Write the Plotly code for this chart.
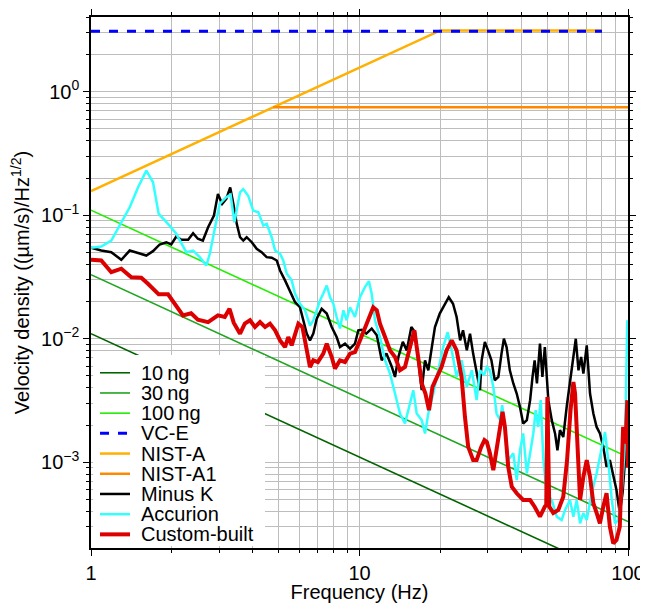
import plotly.graph_objects as go

# ---------------- data ----------------
freq_minusk = [1.0, 1.092, 1.19, 1.297, 1.394, 1.496, 1.607, 1.702, 1.802, 1.907, 1.99, 2.078, 2.17, 2.30, 2.40,
               2.50, 2.61, 2.73, 2.87, 2.97, 3.08, 3.19, 3.30, 3.39, 3.49, 3.59, 3.69, 3.80, 3.97, 4.14, 4.32,
               4.51, 4.71, 4.92, 5.06, 5.28, 5.51, 5.75, 6.0, 6.18, 6.36, 6.54, 6.73, 6.93, 7.23, 7.55, 7.88,
               8.22, 8.46, 8.83, 9.22, 9.62, 9.90, 10.2, 10.6, 11.1, 11.6, 12.1, 12.6, 13.2, 13.56, 13.96, 14.5,
               15.0, 15.6, 16.1, 16.6, 17.05, 17.54, 18.04, 18.6, 19.1, 19.9, 20.8, 21.5, 22.3, 23.0, 23.7, 24.3,
               25.1, 25.8, 26.5, 27.3, 28.1, 28.5, 29.3, 30.1, 31.0, 31.9, 32.9, 33.8, 34.5, 35.3, 36.3, 37.4,
               38.5, 39.6, 40.7, 42.0, 43.2, 44.1, 44.9, 45.8, 47.0, 48.0, 49.0, 50.5, 52.0, 53.5, 54.6, 55.8,
               57.4, 59.1, 60.8, 62.6, 63.9, 65.4, 66.9, 68.2, 70.2, 72.2, 74.3, 76.4, 78.6, 80.9, 83.2, 85.6,
               88.1, 90.6, 93.2, 95.4, 97.5, 98.9]
vel_minusk = [0.0545, 0.0518, 0.0502, 0.0436, 0.0518, 0.0493, 0.0472, 0.0512, 0.058, 0.0605, 0.058, 0.0673, 0.0633,
              0.0633, 0.0715, 0.0645, 0.0624, 0.080, 0.0995, 0.149, 0.1236, 0.1357, 0.168, 0.1236, 0.0852, 0.0664,
              0.0624, 0.0664, 0.0605, 0.0535, 0.0502, 0.0458, 0.0453, 0.043, 0.0357, 0.0297, 0.0246, 0.0198,
              0.018, 0.0141, 0.011, 0.0097, 0.011, 0.01454, 0.0175, 0.016, 0.01244, 0.01033, 0.00857, 0.00912,
              0.0083, 0.00912, 0.0117, 0.0118, 0.011, 0.0121, 0.01065, 0.00669, 0.00758, 0.0059, 0.0049, 0.00711,
              0.00943, 0.00805, 0.01244, 0.0113, 0.00669, 0.00383, 0.00669, 0.00555, 0.00857, 0.01244, 0.016,
              0.0192, 0.0217, 0.0192, 0.015, 0.0097, 0.0117, 0.00805, 0.011, 0.00758, 0.00555, 0.00383, 0.00669,
              0.00943, 0.00805, 0.00669, 0.00461, 0.0049, 0.00758, 0.0100, 0.00857, 0.00555, 0.00434, 0.0036,
              0.0028, 0.00206, 0.00219, 0.00318, 0.0049, 0.00669, 0.00434, 0.00912, 0.0049, 0.00857, 0.00318,
              0.00219, 0.00171, 0.00125, 0.00182, 0.0016, 0.0028, 0.00461, 0.00711, 0.0100, 0.00555, 0.00711,
              0.00522, 0.00885, 0.0036, 0.00248, 0.00193, 0.00171, 0.00133, 0.000918, 0.00104, 0.000762,
              0.000595, 0.000388, 0.00056, 0.00104, 0.00193]

freq_accurion = [1.0, 1.092, 1.19, 1.297, 1.394, 1.496, 1.607, 1.702, 1.787, 1.936, 2.078, 2.265, 2.40, 2.54, 2.69,
                 2.77, 2.89, 3.015, 3.19, 3.31, 3.42, 3.59, 3.69, 3.85, 4.02, 4.2, 4.38, 4.51, 4.71, 4.85, 5.06,
                 5.2, 5.36, 5.59, 5.75, 6.0, 6.27, 6.54, 6.73, 6.93, 7.13, 7.33, 7.55, 7.77, 7.99, 8.22, 8.46,
                 8.71, 8.96, 9.22, 9.62, 10.04, 10.48, 10.84, 11.1, 11.42, 11.92, 12.45, 12.99, 13.56, 14.15,
                 14.77, 15.2, 15.86, 16.33, 17.05, 17.54, 18.04, 18.83, 19.66, 20.5, 21.3, 22.05, 23.0, 24.0,
                 25.1, 26.2, 27.3, 28.1, 29.1, 29.8, 30.6, 31.5, 32.4, 33.4, 34.0, 34.8, 35.8, 37.4, 38.5, 39.6,
                 40.7, 42.0, 43.2, 44.4, 45.3, 46.3, 47.3, 48.4, 49.8, 52.0, 54.3, 56.6, 58.3, 60.8, 62.6, 64.4,
                 66.3, 68.2, 70.2, 73.2, 76.4, 79.8, 82.1, 84.4, 87.0, 89.5, 92.0, 94.7, 97.5, 99.4]
vel_accurion = [0.0545, 0.0558, 0.0624, 0.0878, 0.116, 0.168, 0.230, 0.185, 0.1026, 0.0852, 0.0708, 0.0502, 0.0518,
                0.0458, 0.0392, 0.0488, 0.080, 0.1236, 0.140, 0.147, 0.0878, 0.1535, 0.163, 0.144, 0.109, 0.1058,
                0.0825, 0.0852, 0.0664, 0.0518, 0.0488, 0.043, 0.0336, 0.0297, 0.0232, 0.0192, 0.017, 0.0128,
                0.0141, 0.017, 0.0204, 0.0232, 0.027, 0.0217, 0.0192, 0.015, 0.0121, 0.017, 0.0141, 0.018, 0.015,
                0.0217, 0.0262, 0.0293, 0.0232, 0.0141, 0.0103, 0.00669, 0.00522, 0.0036, 0.00248, 0.00206,
                0.00264, 0.00383, 0.00248, 0.00219, 0.00171, 0.00248, 0.0036, 0.00555, 0.00857, 0.0113, 0.00805,
                0.0049, 0.00669, 0.00407, 0.00555, 0.00318, 0.00555, 0.00506, 0.0059, 0.00555, 0.00407, 0.00248,
                0.00219, 0.0029, 0.00193, 0.00104, 0.00118, 0.000716, 0.00125, 0.00171, 0.000812, 0.00118, 0.00171,
                0.00264, 0.00193, 0.00318, 0.00104, 0.00056, 0.000494, 0.000362, 0.00034, 0.00041, 0.000494,
                0.000362, 0.000494, 0.00032, 0.000388, 0.00034, 0.00056, 0.000812, 0.00133, 0.00176, 0.00104,
                0.000494, 0.00032, 0.00034, 0.00056, 0.00142, 0.0141]

freq_custom = [1.0, 1.092, 1.19, 1.297, 1.413, 1.539, 1.63, 1.787, 1.936, 2.05, 2.20, 2.36, 2.50, 2.73, 2.97, 3.15,
               3.28, 3.40, 3.59, 3.74, 3.91, 4.08, 4.26, 4.45, 4.64, 4.85, 5.06, 5.28, 5.43, 5.59, 5.75, 5.92,
               6.13, 6.36, 6.54, 6.73, 7.0, 7.33, 7.55, 7.88, 8.1, 8.46, 8.83, 9.22, 9.62, 10.04, 10.48, 10.78,
               11.25, 11.6, 11.92, 12.45, 12.99, 13.56, 14.15, 14.77, 15.4, 16.0, 16.6, 17.05, 17.6, 18.15, 18.7,
               19.4, 20.2, 21.1, 22.05, 23.0, 24.0, 24.7, 25.4, 26.5, 27.3, 28.4, 29.2, 29.8, 30.6, 31.5, 32.4,
               33.4, 34.1, 34.8, 35.8, 36.9, 38.5, 40.7, 43.2, 44.9, 47.0, 49.0, 49.6, 50.1, 50.5, 50.9, 52.7,
               55.0, 57.4, 59.3, 61.1, 62.6, 63.5, 64.9, 66.3, 68.2, 70.2, 72.2, 74.3, 76.4, 78.6, 80.9, 83.2,
               85.6, 88.1, 90.6, 93.2, 95.9, 97.9, 99.4, 99.8]
vel_custom = [0.0436, 0.043, 0.0346, 0.0369, 0.0315, 0.0312, 0.0279, 0.0229, 0.0229, 0.0192, 0.01546, 0.0161,
              0.01427, 0.01364, 0.01546, 0.015, 0.0175, 0.0135, 0.011, 0.01325, 0.0141, 0.01244, 0.01364, 0.01244,
              0.01325, 0.0117, 0.0097, 0.00857, 0.01033, 0.00885, 0.011, 0.01325, 0.01244, 0.00805, 0.0059,
              0.00669, 0.00648, 0.00758, 0.00912, 0.00711, 0.00573, 0.00669, 0.00648, 0.00758, 0.0078, 0.0097,
              0.01244, 0.0141, 0.018, 0.017, 0.01325, 0.01033, 0.00805, 0.00711, 0.00555, 0.0059, 0.00857, 0.0117,
              0.00669, 0.00434, 0.0036, 0.00264, 0.00407, 0.0049, 0.0059, 0.00805, 0.0097, 0.00805, 0.0049,
              0.00233, 0.00133, 0.00104, 0.00104, 0.00133, 0.00151, 0.00146, 0.00118, 0.000863, 0.00125, 0.00206,
              0.00256, 0.00193, 0.000918, 0.000633, 0.00056, 0.000494, 0.000494, 0.000436, 0.000362, 0.000436,
              0.00045, 0.00338, 0.00045, 0.000436, 0.000388, 0.00041, 0.000525, 0.00104, 0.00264, 0.00447, 0.0036,
              0.00104, 0.000494, 0.000762, 0.00104, 0.000762, 0.000465, 0.000388, 0.00032, 0.000436, 0.00056,
              0.0003, 0.00022, 0.000234, 0.0003, 0.00193, 0.00142, 0.00318, 0.0009]

# reference criteria (straight-line segments, given by their end values)
freq_vce = [1, 80]
vel_vce = [3.1, 3.1]
freq_nista = [1, 20, 80]
vel_nista = [0.157, 3.14, 3.14]
freq_nista1 = [4.77, 100]
vel_nista1 = [0.75, 0.75]
freq_ng = [1, 100]
vel_10ng = [0.011, 0.00011]
vel_30ng = [0.033, 0.00033]
vel_100ng = [0.11, 0.0011]

legend_names = ["10\u2009ng", "30\u2009ng", "100\u2009ng", "VC-E", "NIST-A", "NIST-A1",
                "Minus K", "Accurion", "Custom-built"]

x_tickvals = [1, 10, 100]
x_ticktext = ["1", "10", "100"]
y_tickvals = [1e-3, 1e-2, 1e-1, 1]
y_ticktext = ["10<sup>\u22123</sup>", "10<sup>\u22122</sup>", "10<sup>\u22121</sup>", "10<sup>0</sup>"]

# ---------------- styles ----------------
styles = {
    "10\u2009ng": dict(color="#006400", width=1.6, dash="solid"),
    "30\u2009ng": dict(color="#1fa51f", width=1.6, dash="solid"),
    "100\u2009ng": dict(color="#22ee00", width=1.6, dash="solid"),
    "VC-E": dict(color="#0000ff", width=3, dash="dash"),
    "NIST-A": dict(color="#ffb000", width=2.5, dash="solid"),
    "NIST-A1": dict(color="#ff8800", width=2.5, dash="solid"),
    "Minus K": dict(color="#000000", width=2.5, dash="solid"),
    "Accurion": dict(color="#33ffff", width=2.5, dash="solid"),
    "Custom-built": dict(color="#dd0000", width=4, dash="solid"),
}

series = [
    ("10\u2009ng", freq_ng, vel_10ng),
    ("30\u2009ng", freq_ng, vel_30ng),
    ("100\u2009ng", freq_ng, vel_100ng),
    ("NIST-A", freq_nista, vel_nista),
    ("VC-E", freq_vce, vel_vce),
    ("NIST-A1", freq_nista1, vel_nista1),
    ("Minus K", freq_minusk, vel_minusk),
    ("Accurion", freq_accurion, vel_accurion),
    ("Custom-built", freq_custom, vel_custom),
]

fig = go.Figure()
for name, fx, vy in series:
    fig.add_trace(go.Scatter(x=fx, y=vy, mode="lines", name=name, line=styles[name],
                             showlegend=False, cliponaxis=True))

FONT = "Liberation Sans, Arial, Helvetica, sans-serif"
grid = "#bdbdbd"

minor_x = [m * d for d in (1, 10) for m in range(2, 10)]
minor_y = [m * d for d in (1e-4, 1e-3, 1e-2, 1e-1, 1) for m in range(2, 10)]

axis_common = dict(
    type="log", showline=True, linecolor="black", linewidth=1.5, mirror="ticks",
    ticks="outside", ticklen=6, tickwidth=1.3, tickcolor="black",
    showgrid=True, gridcolor=grid, gridwidth=1.3, automargin=False,
    ticklabeloverflow="allow",
    tickfont=dict(family=FONT, size=20, color="black"),
)

fig.update_xaxes(
    **axis_common, range=[0, 2], tickvals=x_tickvals, ticktext=x_ticktext,
    minor=dict(tickvals=minor_x, ticks="outside", ticklen=3.5, tickwidth=1.2, tickcolor="black",
               showgrid=True, gridcolor=grid, gridwidth=1.3),
    title=dict(text="Frequency (Hz)", font=dict(family=FONT, size=20, color="black"), standoff=1),
)
fig.update_yaxes(
    **axis_common, range=[-3.695, 0.606], tickvals=y_tickvals, ticktext=y_ticktext,
    minor=dict(tickvals=minor_y, ticks="outside", ticklen=3.5, tickwidth=1.2, tickcolor="black",
               showgrid=True, gridcolor=grid, gridwidth=1.3),
    title=dict(text="Velocity density ((\u00b5m/s)/Hz<sup>1/2</sup>)",
               font=dict(family=FONT, size=20, color="black"), standoff=7),
)

# ---------------- hand-made legend (compact, as in the reference) ----------------
shapes = [dict(type="rect", xref="paper", yref="paper", x0=0.004, x1=0.324, y0=0.004, y1=0.3635,
               fillcolor="white", line=dict(width=0), layer="above")]
annotations = []
for i, name in enumerate(legend_names):
    yy = 0.330 - 0.03804 * i
    st = styles[name]
    shapes.append(dict(type="line", xref="paper", yref="paper", x0=0.0168, x1=0.0726, y0=yy, y1=yy,
                       line=dict(color=st["color"], width=st["width"], dash=st["dash"]), layer="above"))
    annotations.append(dict(xref="paper", yref="paper", x=0.0912, y=yy, xanchor="left", yanchor="middle",
                            text=name, showarrow=False, borderpad=0,
                            font=dict(family=FONT, size=20, color="black")))

# the page adds an 8 px body margin, so the figure is sized to fit the 648x603 window
fig.update_layout(
    width=640, height=595,
    margin=dict(l=83, r=20, t=9, b=55, autoexpand=False),
    paper_bgcolor="white", plot_bgcolor="white",
    font=dict(family=FONT, size=20, color="black"),
    shapes=shapes, annotations=annotations,
    showlegend=False,
)

fig.write_html("out.html")
